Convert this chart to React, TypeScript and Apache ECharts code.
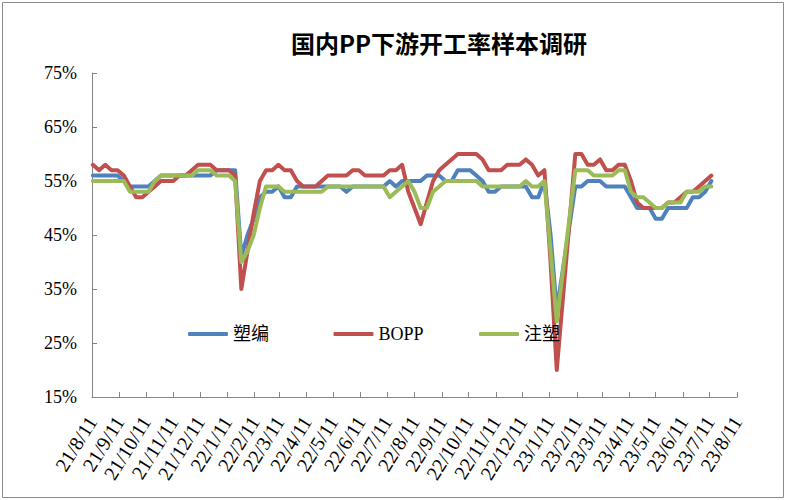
import React, { useEffect, useRef } from "react";
import * as echarts from "echarts";

const titleText = "国内PP下游开工率样本调研";
const seriesNames = ["塑编", "BOPP", "注塑"];
const seriesColors = ["#4F81BD", "#C0504D", "#9BBB59"];

// month tick labels on the date axis
const tickLabels = [
  "21/8/11", "21/9/11", "21/10/11", "21/11/11", "21/12/11",
  "22/1/11", "22/2/11", "22/3/11", "22/4/11", "22/5/11", "22/6/11", "22/7/11",
  "22/8/11", "22/9/11", "22/10/11", "22/11/11", "22/12/11",
  "23/1/11", "23/2/11", "23/3/11", "23/4/11", "23/5/11", "23/6/11", "23/7/11", "23/8/11",
];
const yTicks = [15, 25, 35, 45, 55, 65, 75];

// weekly samples, first week 2021-08-12 (null = no report that week)
const firstWeek = "2021-08-12";

const suBian = [
  56, 56, 56, 56, 56, 55, 54, 54, 54, 54,
  55, 56, 56, 56, 56, 56, 56, 56, 56, 56,
  57, 57, 57, 57, 41, 45, 48, 52, 53, 53,
  54, 52, 52, 54, 54, 54, 54, 54, 54, 54,
  54, 53, 54, 54, 54, 54, 54, 54, 55, 54,
  55, 55, 55, 55, 56, 56, 56, 55, 55, 57,
  57, 57, 56, 55, 53, 53, 54, 54, 54, 54,
  54, 52, 52, 55, 45, 31, null, null, 54, 54,
  55, 55, 55, 54, 54, 54, 54, 52, 50, 50,
  50, 48, 48, 50, 50, 50, 50, 52, 52, 53,
  55,
];

const bopp = [
  58, 57, 58, 57, 57, 56, 54, 52, 52, 53,
  54, 55, 55, 55, 56, 56, 57, 58, 58, 58,
  57, 57, 57, 56, 35, 42, 49, 55, 57, 57,
  58, 57, 57, 55, 54, 54, 54, 55, 56, 56,
  56, 56, 57, 57, 56, 56, 56, 56, 57, 57,
  58, 53, 50, 47, 51, 55, 57, 58, 59, 60,
  60, 60, 60, 59, 57, 57, 57, 58, 58, 58,
  59, 58, 56, 57, 40, 20, null, null, 60, 60,
  58, 58, 59, 57, 57, 58, 58, 55, 51, 50,
  50, 50, 50, 51, 51, 52, 53, 53, 54, 55,
  56,
];

const zhuSu = [
  55, 55, 55, 55, 55, 55, 53, 53, 53, 53,
  55, 56, 56, 56, 56, 56, 56, 57, 57, 57,
  56, 56, 56, 55, 40, 42, 45, 50, 54, 54,
  54, 53, 53, 53, 53, 53, 53, 53, 54, 54,
  54, 54, 54, 54, 54, 54, 54, 54, 52, 53,
  54, 55, 53, 50, 50, 53, 54, 55, 55, 55,
  55, 55, 55, 54, 54, 54, 54, 54, 54, 54,
  55, 54, 54, 55, 42, 29, null, null, 57, 57,
  57, 56, 56, 56, 56, 57, 57, 53, 52, 52,
  51, 50, 50, 51, 51, 51, 53, 53, 53, 54,
  54,
];

const DAY = 86400000;

function parseTick(s: string): number {
  const [yy, m, d] = s.split("/").map(Number);
  return Date.UTC(2000 + yy, m - 1, d);
}

export default function App() {
  const ref = useRef<HTMLDivElement>(null);

  useEffect(() => {
    document.body.style.margin = "0";
    if (!ref.current) return;
    const chart = echarts.init(ref.current, undefined, { renderer: "svg" });

    const t0 = parseTick(tickLabels[0]);
    // x positions expressed in days since the first tick
    const tickDays = tickLabels.map((s) => Math.round((parseTick(s) - t0) / DAY));
    const [fy, fm, fd] = firstWeek.split("-").map(Number);
    const startDay = Math.round((Date.UTC(fy, fm - 1, fd) - t0) / DAY);
    const weekDays = suBian.map((_, i) => startDay + i * 7);
    const toData = (vals: (number | null)[]) =>
      vals.map((v, i) => [weekDays[i], v]);

    const labelFor = (v: number) => {
      const i = tickDays.indexOf(Math.round(v));
      return i >= 0 ? tickLabels[i] : "";
    };

    const serif = "'Liberation Serif', 'Noto Sans CJK SC', serif";
    const axisColor = "#868686";
    const allData = [suBian, bopp, zhuSu];

    chart.setOption({
      animation: false,
      backgroundColor: "#ffffff",
      title: {
        text: titleText,
        left: 434,
        textAlign: "center",
        top: 24,
        textStyle: {
          fontFamily: "'Noto Sans CJK SC', sans-serif",
          fontSize: 24,
          fontWeight: "bold",
          color: "#000000",
          lineHeight: 26,
        },
      },
      legend: {
        left: 183,
        top: 320,
        orient: "horizontal",
        itemWidth: 40,
        itemHeight: 4,
        itemGap: 0,
        itemTextGap: 4,
        icon: "roundRect",
        data: seriesNames,
        textStyle: {
          fontFamily: serif,
          fontSize: 18,
          color: "#000000",
          width: 100.5,
          overflow: "none",
          lineHeight: 18,
        },
      },
      grid: { left: 92, right: 50, top: 73, bottom: 103, containLabel: false },
      xAxis: {
        type: "value",
        min: tickDays[0],
        max: tickDays[tickDays.length - 1],
        axisLine: { show: true, lineStyle: { color: axisColor, width: 1 } },
        axisTick: {
          show: true,
          inside: true,
          length: 5,
          customValues: tickDays,
          lineStyle: { color: axisColor },
        },
        axisLabel: {
          customValues: tickDays,
          formatter: (v: number) => labelFor(v),
          rotate: 58,
          margin: 21,
          fontFamily: serif,
          fontSize: 20,
          color: "#000000",
          hideOverlap: false,
        },
        splitLine: { show: false },
      },
      yAxis: {
        type: "value",
        min: yTicks[0],
        max: yTicks[yTicks.length - 1],
        axisLine: { show: true, lineStyle: { color: axisColor, width: 1 } },
        axisTick: {
          show: true,
          inside: true,
          length: 5,
          customValues: yTicks,
          lineStyle: { color: axisColor },
        },
        axisLabel: {
          customValues: yTicks,
          formatter: (v: number) => v + "%",
          margin: 15,
          fontFamily: serif,
          fontSize: 18,
          color: "#000000",
        },
        splitLine: { show: false },
      },
      graphic: [
        {
          type: "rect",
          shape: { x: 2.5, y: 2.5, width: 781, height: 495 },
          style: { fill: "none", stroke: "#8c8c8c", lineWidth: 1 },
          silent: true,
          z: 0,
        },
      ],
      series: seriesNames.map((name, k) => ({
        name,
        type: "line",
        data: toData(allData[k]),
        showSymbol: false,
        symbol: "none",
        connectNulls: true,
        color: seriesColors[k],
        lineStyle: { width: 4, color: seriesColors[k], cap: "round", join: "round" },
      })),
    });

    return () => chart.dispose();
  }, []);

  return <div ref={ref} style={{ width: 787, height: 500 }} />;
}
